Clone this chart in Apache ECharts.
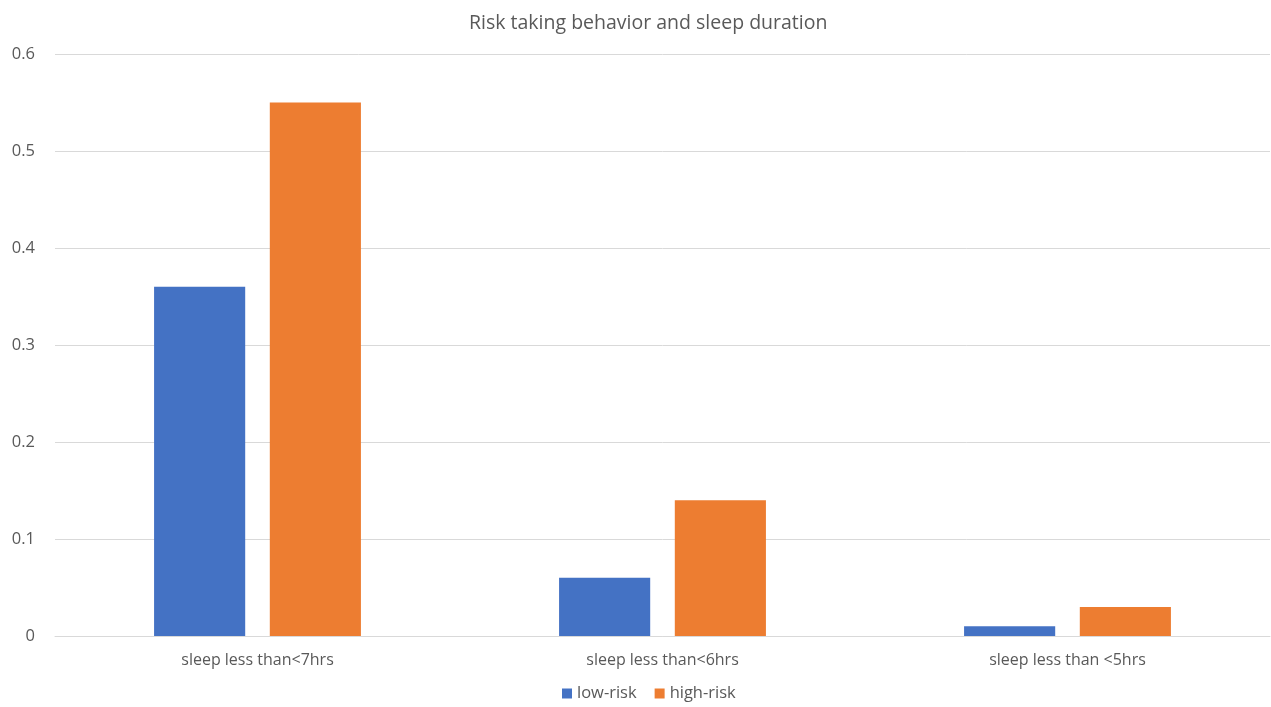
<!DOCTYPE html>
<html>
<head>
<meta charset="utf-8">
<script src="https://cdn.jsdelivr.net/npm/echarts@6/dist/echarts.min.js"></script>
<style>
html,body{margin:0;padding:0;background:#fff;}
#c{width:1271px;height:707px;}
</style>
</head>
<body>
<div id="c"></div>
<script>
const categories = ['sleep less than<7hrs', 'sleep less than<6hrs', 'sleep less than <5hrs'];
const lowRisk = [0.36, 0.06, 0.01];
const highRisk = [0.55, 0.14, 0.03];
const seriesNames = ['low-risk', 'high-risk'];

const chart = echarts.init(document.getElementById('c'));
const font = 'Open Sans, Liberation Sans, sans-serif';
chart.setOption({
  animation: false,
  title: {
    text: 'Risk taking behavior and sleep duration',
    left: 464, top: 8,
    textStyle: {fontFamily: font, fontSize: 19.5, fontWeight: 'normal', color: '#595959'}
  },
  legend: {
    bottom: 0, left: 557,
    itemWidth: 10, itemHeight: 10, itemGap: 18,
    icon: 'rect',
    textStyle: {fontFamily: font, fontSize: 16.5, color: '#595959'},
    data: seriesNames
  },
  grid: {left: 55, right: 1, top: 54, bottom: 71, containLabel: false},
  xAxis: {
    type: 'category', data: categories,
    axisLine: {lineStyle: {color: '#d9d9d9'}},
    axisTick: {show: false},
    axisLabel: {fontFamily: font, fontSize: 16, color: '#595959', margin: 16}
  },
  yAxis: {
    type: 'value', min: 0, max: 0.6, interval: 0.1,
    axisLine: {show: false}, axisTick: {show: false},
    splitLine: {lineStyle: {color: '#d9d9d9'}},
    axisLabel: {fontFamily: font, fontSize: 16.5, color: '#595959', margin: 20,
      formatter: v => v === 0 ? '0' : String(+v.toFixed(1))}
  },
  series: [
    {name: seriesNames[0], type: 'bar', data: lowRisk, itemStyle: {color: '#4472c4'},
      barWidth: '22.5%', barGap: '27%'},
    {name: seriesNames[1], type: 'bar', data: highRisk, itemStyle: {color: '#ed7d31'},
      barWidth: '22.5%', barGap: '27%'}
  ]
});
</script>
</body>
</html>
